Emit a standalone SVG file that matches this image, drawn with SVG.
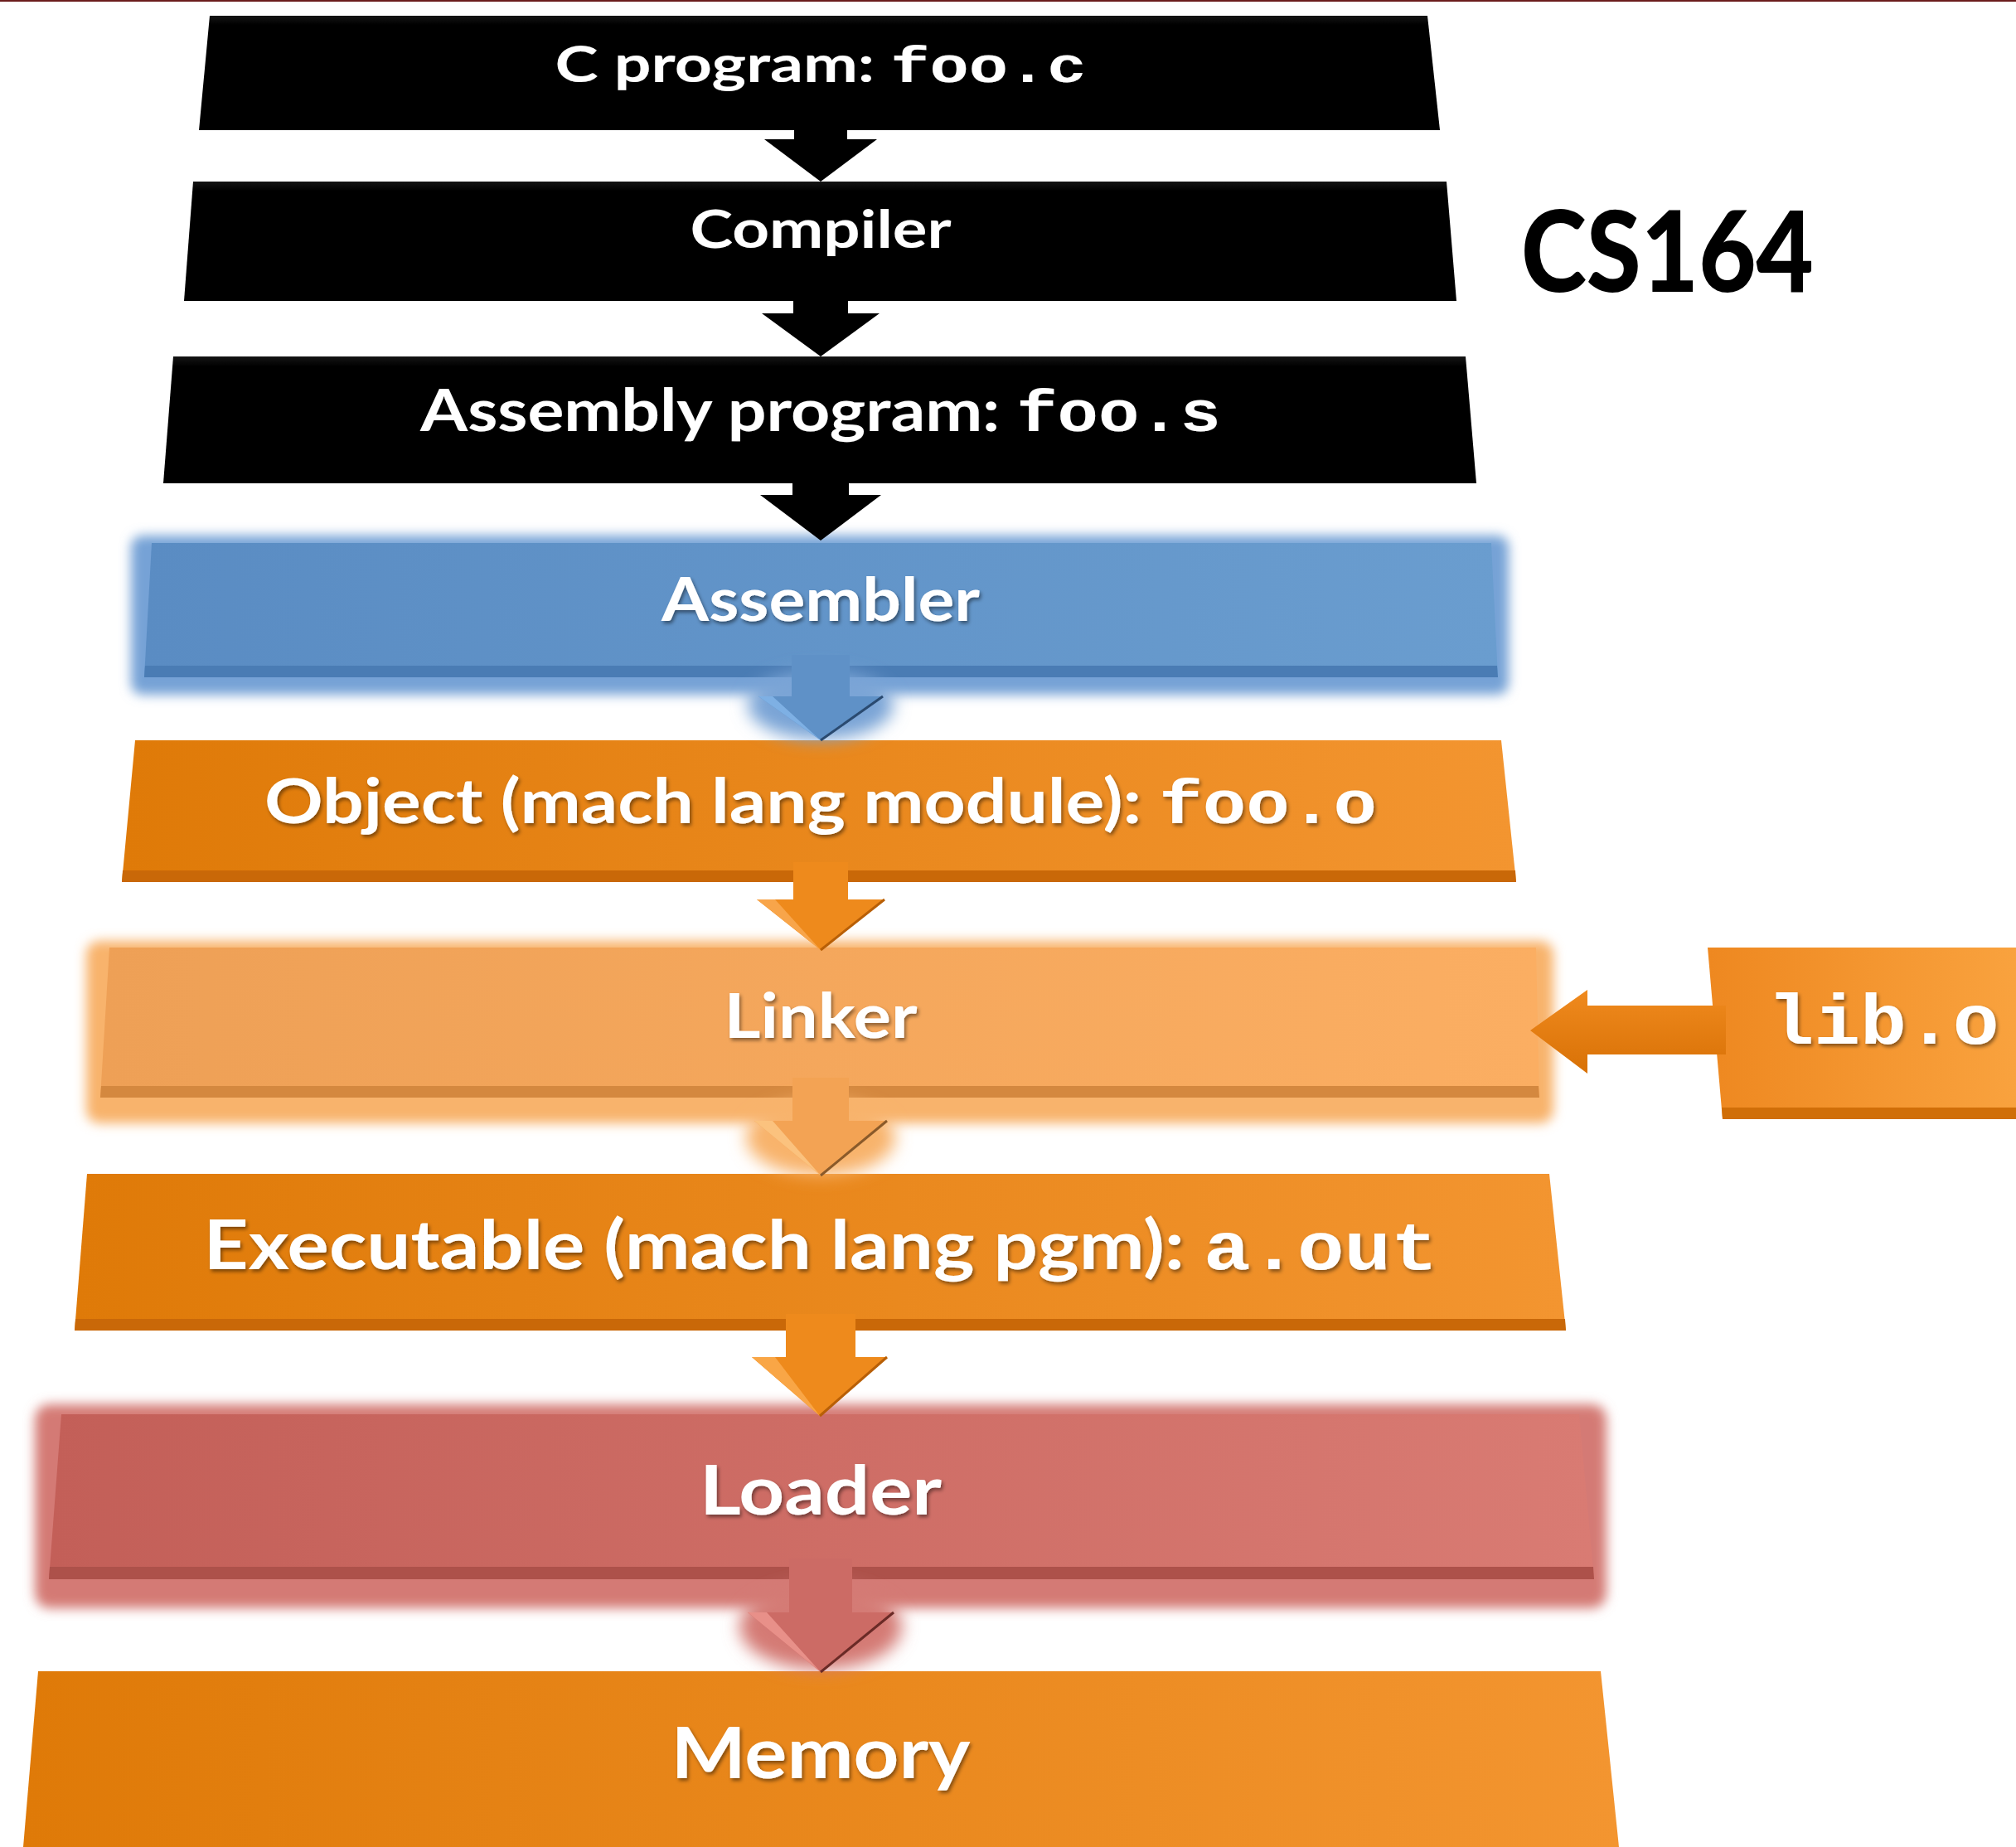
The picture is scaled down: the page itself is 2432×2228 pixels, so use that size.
<svg xmlns="http://www.w3.org/2000/svg" width="2432" height="2228" viewBox="0 0 2432 2228">
<defs>
  <style>
    .lbl { font-family: Lato, "Liberation Sans", sans-serif; font-weight: 700; fill: #ffffff; text-anchor: middle; filter: url(#tsh); }
    .mono { font-family: "Liberation Mono", "DejaVu Sans Mono", monospace; font-weight: 700; }
    .title { font-family: Lato, "Liberation Sans", sans-serif; font-weight: 900; fill: #000000; }
  </style>
  <linearGradient id="gBlack" x1="0" y1="0" x2="0" y2="1">
    <stop offset="0" stop-color="#151515"/><stop offset="0.08" stop-color="#000"/><stop offset="1" stop-color="#000"/>
  </linearGradient>
  <linearGradient id="gBlue" x1="0" y1="0" x2="1" y2="0">
    <stop offset="0" stop-color="#5a8cc3"/><stop offset="1" stop-color="#6a9dcf"/>
  </linearGradient>
  <linearGradient id="gOrange" x1="0" y1="0" x2="1" y2="0">
    <stop offset="0" stop-color="#df7a08"/><stop offset="1" stop-color="#f39530"/>
  </linearGradient>
  <linearGradient id="gLight" x1="0" y1="0" x2="1" y2="0">
    <stop offset="0" stop-color="#eea056"/><stop offset="1" stop-color="#fbae62"/>
  </linearGradient>
  <linearGradient id="gRed" x1="0" y1="0" x2="1" y2="0">
    <stop offset="0" stop-color="#c35f58"/><stop offset="1" stop-color="#d97b73"/>
  </linearGradient>
  <linearGradient id="gLib" x1="0" y1="0" x2="1" y2="0">
    <stop offset="0" stop-color="#ee8820"/><stop offset="1" stop-color="#f9a23e"/>
  </linearGradient>
  <linearGradient id="gLibArrow" x1="0" y1="0" x2="0" y2="1">
    <stop offset="0" stop-color="#f08a1e"/><stop offset="1" stop-color="#d87106"/>
  </linearGradient>
  <filter id="glow" x="-10%" y="-30%" width="120%" height="160%">
    <feGaussianBlur stdDeviation="7"/>
  </filter>
  <filter id="halo" x="-50%" y="-50%" width="200%" height="200%">
    <feGaussianBlur stdDeviation="10"/>
  </filter>
  <filter id="tsh" x="-5%" y="-20%" width="110%" height="140%">
    <feDropShadow dx="2" dy="3" stdDeviation="2" flood-color="#000" flood-opacity="0.45"/>
  </filter>
</defs>

<rect x="0" y="0" width="2432" height="2228" fill="#ffffff"/>
<rect x="0" y="0" width="2432" height="2" fill="#6b1c1c"/>

<g id="title">
  <text class="title" x="1835" y="352" font-size="136" textLength="353" lengthAdjust="spacingAndGlyphs">CS164</text>
</g>

<g id="node-c-program">
  <polygon points="253,19 1722,19 1737,157 240,157" fill="url(#gBlack)"/>
  <text class="lbl" x="990" y="99" font-size="62" textLength="641" lengthAdjust="spacingAndGlyphs">C program: <tspan class="mono">foo.c</tspan></text>
</g>

<g id="node-compiler">
  <polygon points="233,219 1745,219 1757,363 222,363" fill="url(#gBlack)"/>
  <text class="lbl" x="990" y="299" font-size="64" textLength="315" lengthAdjust="spacingAndGlyphs">Compiler</text>
</g>

<g id="node-assembly">
  <polygon points="209,430 1768,430 1781,583 197,583" fill="url(#gBlack)"/>
  <text class="lbl" x="990" y="520" font-size="70" textLength="966" lengthAdjust="spacingAndGlyphs">Assembly program: <tspan class="mono">foo.s</tspan></text>
</g>

<g id="node-assembler">
  <rect x="158" y="646" width="1662" height="192" rx="14" fill="#76a2d6" filter="url(#glow)"/>
  <polygon points="183,655 1799,655 1807,817 174,817" fill="url(#gBlue)"/>
  <polygon points="175,803 1806,803 1807,817 174,817" fill="#4a7cb4"/>
  <text class="lbl" x="990" y="749" font-size="72" textLength="384" lengthAdjust="spacingAndGlyphs">Assembler</text>
</g>

<g id="node-object">
  <polygon points="163,893 1811,893 1829,1064 147,1064" fill="url(#gOrange)"/>
  <polygon points="148,1050 1828,1050 1829,1064 147,1064" fill="#c96808"/>
  <text class="lbl" x="990" y="993" font-size="75" textLength="1342" lengthAdjust="spacingAndGlyphs">Object (mach lang module): <tspan class="mono">foo.o</tspan></text>
</g>

<g id="node-linker">
  <rect x="104" y="1135" width="1770" height="220" rx="16" fill="#f8b36c" filter="url(#glow)"/>
  <polygon points="132,1143 1853,1143 1857,1324 121,1324" fill="url(#gLight)"/>
  <polygon points="122,1310 1856,1310 1857,1324 121,1324" fill="#d4883f"/>
  <text class="lbl" x="990" y="1252" font-size="75" textLength="233" lengthAdjust="spacingAndGlyphs">Linker</text>
</g>

<g id="node-lib">
  <polygon points="2060,1143 2432,1143 2432,1350 2078,1350" fill="url(#gLib)"/>
  <polygon points="2077,1336 2432,1336 2432,1350 2078,1350" fill="#d06e08"/>
  <text class="lbl mono" x="2272" y="1259" font-size="86" textLength="279" lengthAdjust="spacingAndGlyphs">lib.o</text>
</g>

<g id="node-executable">
  <polygon points="105,1416 1869,1416 1889,1605 90,1605" fill="url(#gOrange)"/>
  <polygon points="91,1591 1888,1591 1889,1605 90,1605" fill="#c96808"/>
  <text class="lbl" x="990" y="1531" font-size="82" textLength="1489" lengthAdjust="spacingAndGlyphs">Executable (mach lang pgm): <tspan class="mono">a.out</tspan></text>
</g>

<g id="node-loader">
  <rect x="42" y="1694" width="1896" height="246" rx="18" fill="#d47a74" filter="url(#glow)"/>
  <polygon points="74,1706 1905,1706 1923,1905 59,1905" fill="url(#gRed)"/>
  <polygon points="60,1890 1922,1890 1923,1905 59,1905" fill="#ad514a"/>
  <text class="lbl" x="990" y="1827" font-size="82" textLength="292" lengthAdjust="spacingAndGlyphs">Loader</text>
</g>

<g id="node-memory">
  <polygon points="46,2016 1931,2016 1953,2228 28,2228" fill="url(#gOrange)"/>
  <text class="lbl" x="990" y="2145" font-size="86" textLength="361" lengthAdjust="spacingAndGlyphs">Memory</text>
</g>

<g id="connectors">
  <!-- black arrows -->
  <path d="M958,140 L1022,140 L1022,168 L1058,168 L990,219 L922,168 L958,168 Z" fill="#000"/>
  <path d="M957,345 L1023,345 L1023,378 L1061,378 L990,430 L919,378 L957,378 Z" fill="#000"/>
  <path d="M956,565 L1024,565 L1024,597 L1063,597 L990,652 L917,597 L956,597 Z" fill="#000"/>
  <!-- blue arrow with halo -->
  <ellipse cx="990" cy="850" rx="88" ry="42" fill="#7aa4d6" filter="url(#halo)"/>
  <path d="M955,790 L1025,790 L1025,840 L1065,840 L990,893 L915,840 L955,840 Z" fill="#5f91c7"/>
  <path d="M990,893 L1065,840" stroke="#2a4a70" stroke-width="3" fill="none"/>
  <path d="M990,893 L915,840 L932,840 Z" fill="#7eb0e4"/>
  <!-- orange arrow object -> linker -->
  <path d="M957,1040 L1023,1040 L1023,1085 L1067,1085 L990,1146 L913,1085 L957,1085 Z" fill="#ee8a1c"/>
  <path d="M990,1146 L913,1085 L935,1085 Z" fill="#f8a54a"/>
  <path d="M990,1146 L1067,1085" stroke="#b85f06" stroke-width="3" fill="none"/>
  <!-- light arrow linker -> executable with halo -->
  <ellipse cx="990" cy="1372" rx="90" ry="46" fill="#f8b36c" filter="url(#halo)"/>
  <path d="M956,1300 L1024,1300 L1024,1352 L1070,1352 L990,1418 L910,1352 L956,1352 Z" fill="#f3a354"/>
  <path d="M990,1418 L910,1352 L932,1352 Z" fill="#fbc27e"/>
  <path d="M990,1418 L1070,1352" stroke="#8a5a2a" stroke-width="3" fill="none"/>
  <!-- orange arrow executable -> loader -->
  <path d="M948,1585 L1032,1585 L1032,1637 L1070,1637 L989,1708 L907,1637 L948,1637 Z" fill="#ee8a1c"/>
  <path d="M989,1708 L907,1637 L935,1637 Z" fill="#f9a646"/>
  <path d="M989,1708 L1070,1637" stroke="#b85f06" stroke-width="3" fill="none"/>
  <!-- red arrow loader -> memory with halo -->
  <ellipse cx="990" cy="1962" rx="98" ry="52" fill="#d47a74" filter="url(#halo)"/>
  <path d="M952,1880 L1028,1880 L1028,1945 L1078,1945 L990,2017 L902,1945 L952,1945 Z" fill="#cc6b65"/>
  <path d="M990,2017 L902,1945 L925,1945 Z" fill="#e89089"/>
  <path d="M990,2017 L1078,1945" stroke="#6a2a26" stroke-width="3" fill="none"/>
  <!-- lib.o -> linker -->
  <path d="M2082,1213 L1915,1213 L1915,1194 L1846,1243 L1915,1295 L1915,1272 L2082,1272 Z" fill="url(#gLibArrow)"/>
</g>
</svg>
